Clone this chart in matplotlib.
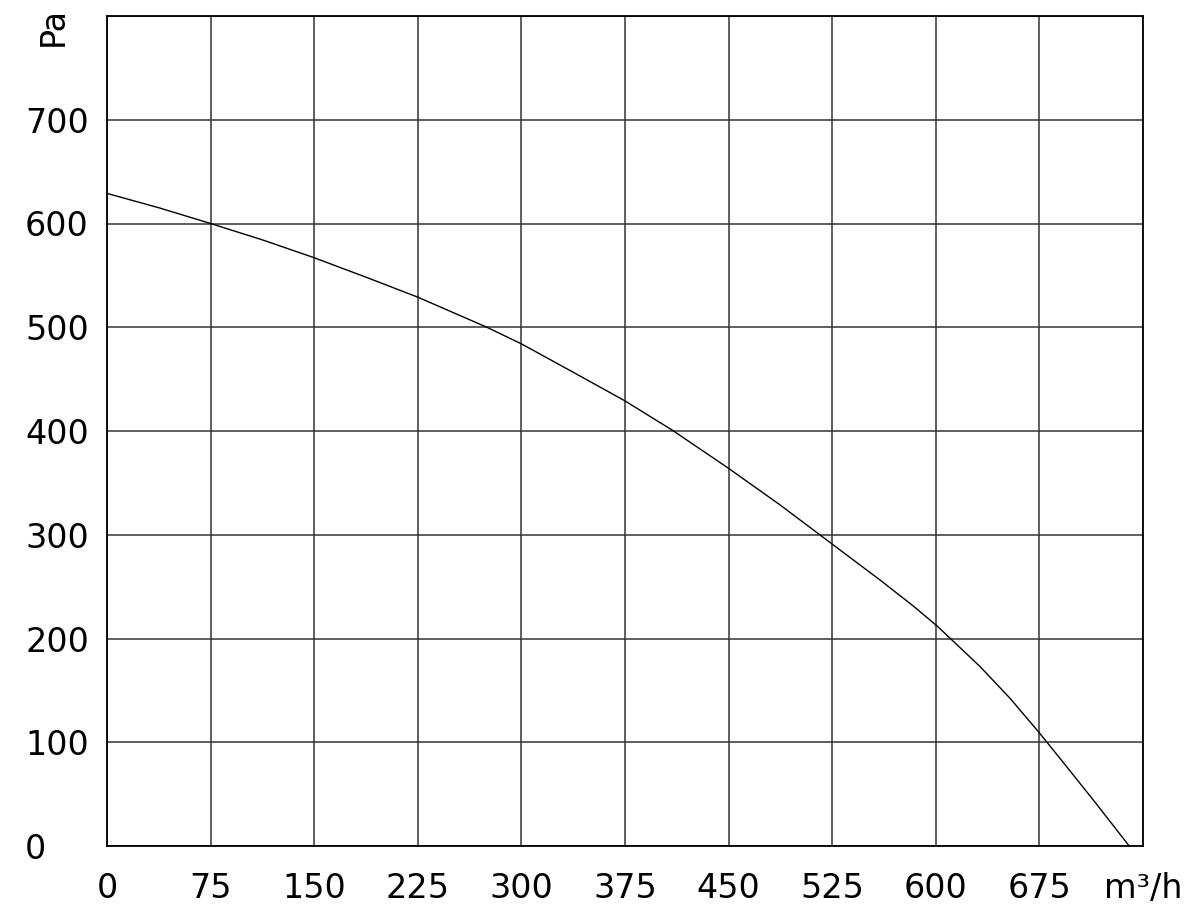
import matplotlib
matplotlib.use('Agg')
import matplotlib.pyplot as plt

# fan curve (flow m3/h, pressure Pa)
flow = [0, 38, 75, 113, 150, 188, 225, 275, 300, 337, 375, 409, 450,
        487, 517, 560, 584, 601, 632, 654, 675, 692, 716, 740]
pressure = [629, 615, 600, 584, 567, 548, 529, 500, 484, 457, 429, 401, 364,
            329, 299, 256, 231, 212, 173, 142, 109, 81, 41, 0]

x_ticks = [0, 75, 150, 225, 300, 375, 450, 525, 600, 675, 750]
x_labels = ['0', '75', '150', '225', '300', '375', '450', '525', '600', '675', 'm³/h']
y_ticks = [0, 100, 200, 300, 400, 500, 600, 700, 800]
y_labels = ['0', '100', '200', '300', '400', '500', '600', '700', '']

plt.rcParams.update({'font.size': 24, 'font.family': 'DejaVu Sans'})

fig = plt.figure(figsize=(11.96, 9.16), dpi=100)
ax = fig.add_axes([107 / 1196, 1 - 846 / 916, 1036 / 1196, 830 / 916])

ax.plot(flow, pressure, color='black', lw=1.0)

ax.set_xlim(0, 750)
ax.set_ylim(0, 800)
ax.set_xticks(x_ticks)
ax.set_xticklabels(x_labels)
ax.set_yticks(y_ticks)
ax.set_yticklabels(y_labels)
ax.grid(True, color='#333333', lw=1.1)
ax.tick_params(length=0)
ax.tick_params(axis='x', pad=19)
ax.tick_params(axis='y', pad=59)
for lab in ax.get_yticklabels():
    lab.set_horizontalalignment('left')
for sp in ax.spines.values():
    sp.set_color('black')
    sp.set_linewidth(1.3)

fig.text(53 / 1196, 1 - 26 / 916, 'Pa', rotation=90, ha='center', va='center')

fig.savefig('out.png', dpi=100)
